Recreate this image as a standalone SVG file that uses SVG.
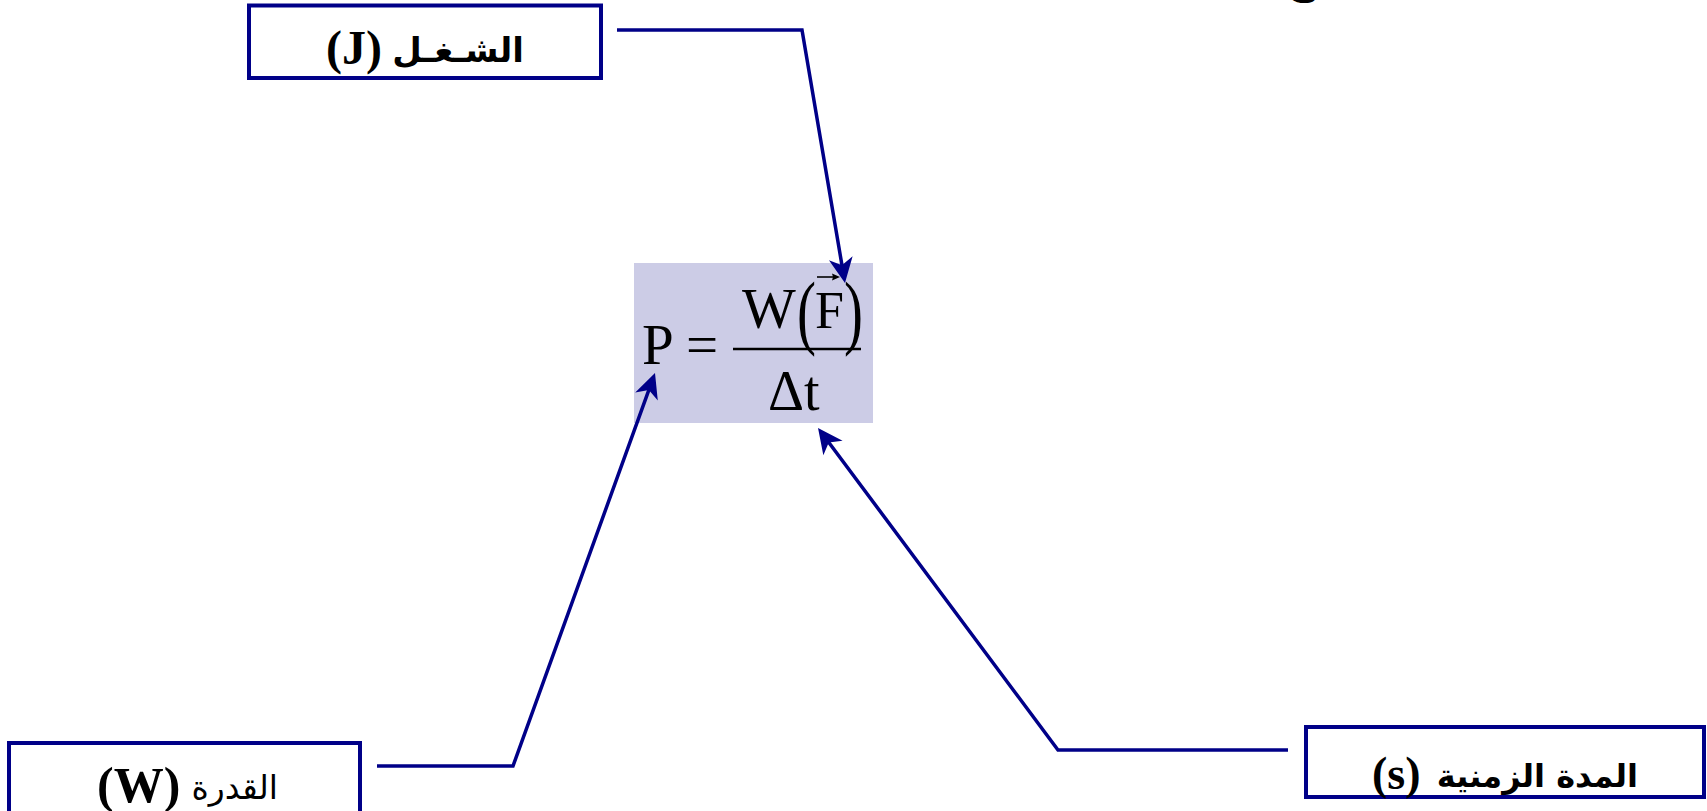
<svg xmlns="http://www.w3.org/2000/svg" width="1707" height="811" viewBox="0 0 1707 811">
<style>
.box{fill:#ffffff;stroke:#000088;stroke-width:4}
.con{fill:none;stroke:#000088;stroke-width:3.5;stroke-linejoin:miter}
.lat{font-family:"Liberation Serif","Times New Roman",serif;font-weight:bold;fill:#000}
.ar{font-family:"DejaVu Sans","Liberation Serif",sans-serif;fill:#000}
.math{font-family:"Liberation Serif","Times New Roman",serif;fill:#000}
</style>
<defs>
<marker id="ah" markerUnits="userSpaceOnUse" viewBox="-16 -13 27 26" refX="0" refY="0" markerWidth="27" markerHeight="26" orient="auto">
<path d="M10,0 L-15,-12 L-8,0 L-15,12 Z" fill="#000088"/>
</marker>
</defs>
<rect width="1707" height="811" fill="#ffffff"/>
<text class="ar" x="1300" y="-7" font-size="40" font-weight="bold" text-anchor="middle">ج</text>

<g id="formula">
<rect x="634" y="263" width="239" height="160" fill="#ccccE6"/>
<text class="math" x="642" y="364" font-size="57">P</text>
<text class="math" x="686" y="364" font-size="57">=</text>
<line x1="733" y1="349" x2="861" y2="349" stroke="#000" stroke-width="2.5"/>
<text class="math" x="742" y="328" font-size="57">W</text>
<text class="math" transform="translate(797,339) scale(1,1.45)" font-size="57">(</text>
<text class="math" x="815" y="328" font-size="52">F</text>
<text class="math" transform="translate(844,339) scale(1,1.45)" font-size="57">)</text>
<line x1="817" y1="277" x2="835" y2="277" stroke="#000" stroke-width="1.6"/>
<path d="M840,277 L832,273.5 L833,277 L832,280.5 Z" fill="#000"/>
<text class="math" x="768" y="410" font-size="56">Δt</text>
</g>

<g id="node-work">
<rect class="box" x="249" y="5.5" width="352" height="72.5"/>
<text class="lat" x="326" y="64" font-size="48">(J)</text>
<text class="ar" x="524" y="62" font-size="34" font-weight="bold" text-anchor="end">الشـغـل</text>
</g>

<g id="node-power">
<rect class="box" x="9" y="743" width="351" height="90"/>
<text class="lat" x="97" y="802" font-size="50">(W)</text>
<text class="ar" x="278" y="799" font-size="33" text-anchor="end">القدرة</text>
</g>

<g id="node-time">
<rect class="box" x="1306" y="727" width="398" height="70"/>
<text class="lat" x="1372" y="789" font-size="46">(s)</text>
<text class="ar" x="1638" y="787" font-size="32" font-weight="bold" text-anchor="end">المدة الزمنية</text>
</g>

<g id="connectors">
<path class="con" d="M617,30 L802,30 L843.3,273.1" marker-end="url(#ah)"/>
<path class="con" d="M377,766 L513,766 L651.6,382.4" marker-end="url(#ah)"/>
<path class="con" d="M1288,750 L1058,750 L824,436" marker-end="url(#ah)"/>
</g>
</svg>
